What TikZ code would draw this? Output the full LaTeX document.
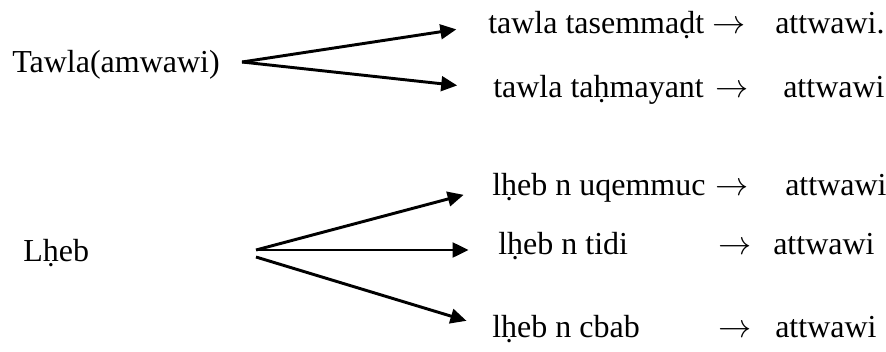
\documentclass[tikz,border=0pt]{standalone}
\usepackage{fontspec}
\setmainfont{Liberation Serif}
\usetikzlibrary{arrows.meta}

\tikzset{
  word/.style={inner sep=0pt, anchor=base west},
  branch/.style={line width=2.2pt, -{Triangle[length=12pt,width=11pt]}, shorten >=#1},
  branch/.default=20pt
}

\begin{document}
\begin{tikzpicture}[x=0.75pt, y=-0.75pt, font=\fontsize{24}{28}\selectfont]
	\useasboundingbox (0,0) rectangle (886,351);
	% Tawla
	\node[word] (tawla) at (12,72) {Tawla(amwawi)};
	\coordinate (tv) at (242,62);
	\node[word] (t1) at (488,33) {tawla tasemmaḍt};
	\node[word] (a1) at (712,33) {$\rightarrow$};
	\node[word] (r1) at (775,33) {attwawi.};
	\node[word] (t2) at (493,97) {tawla taḥmayant};
	\node[word] (a2) at (715,97) {$\rightarrow$};
	\node[word] (r2) at (783,97) {attwawi};
	\draw[branch=24pt] (tv) -- (t1.west);
	\draw[branch=27pt] (tv) -- (t2.west);
	% Lheb
	\node[word] (lheb) at (23,261) {Lḥeb};
	\coordinate (lv) at (256,250);
	\coordinate (lw) at (256,257);
	\node[word] (l1) at (492,195) {lḥeb n uqemmuc};
	\node[word] (b1) at (715,195) {$\rightarrow$};
	\node[word] (s1) at (785,195) {attwawi};
	\node[word] (l2) at (498,254) {lḥeb n tidi};
	\node[word] (b2) at (718,254) {$\rightarrow$};
	\node[word] (s2) at (773,254) {attwawi};
	\node[word] (l3) at (492,337) {lḥeb n cbab};
	\node[word] (b3) at (718,337) {$\rightarrow$};
	\node[word] (s3) at (775,337) {attwawi};
	\draw[branch=22pt] (lv) -- (l1.west);
	\draw[branch=22pt] (lv) -- (lv -| l2.west);
	\draw[branch=20pt] (lw) -- (l3.west);
\end{tikzpicture}
\end{document}
